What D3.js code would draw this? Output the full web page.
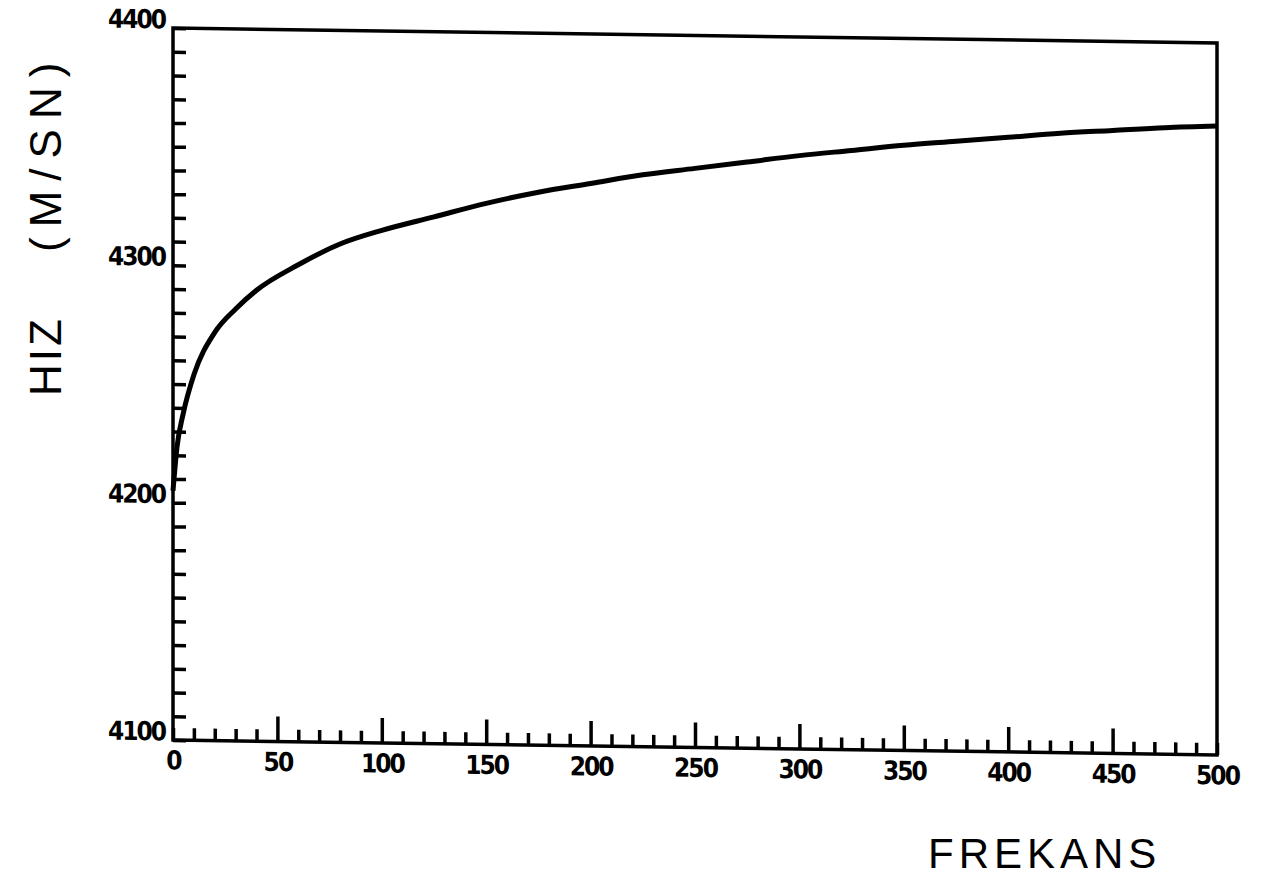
<!DOCTYPE html>
<html>
<head>
<meta charset="utf-8">
<script src="https://cdn.jsdelivr.net/npm/d3@7"></script>
<style>
  body { margin: 0; background: #fff; }
  svg { display: block; }
  .tick text { font-family: "DejaVu Sans Condensed", "DejaVu Sans", sans-serif; font-stretch: condensed; font-weight: bold; font-size: 26px; letter-spacing: -2px; fill: #000; }
  .tick line { stroke: #000; stroke-width: 3.5; }
  .domain { display: none; }
  .title { font-family: "Liberation Sans", Arial, sans-serif; fill: #000; }
</style>
</head>
<body>
<div class="container"></div>
<script>
// values
const frekans = [0, 2, 5, 10, 20, 30, 40, 60, 80, 100, 125, 150, 175, 200, 225, 250, 275, 300, 325, 350, 375, 400, 425, 450, 475, 500]
const hiz = [4205, 4224, 4238, 4254, 4272, 4282, 4290, 4301, 4310, 4316, 4322, 4328, 4333, 4337, 4341, 4344, 4347, 4350, 4352.5, 4355, 4357, 4359, 4361, 4362.5, 4364, 4365]
const xTicks = d3.range(0, 501, 10)
const yTicks = d3.range(4100, 4401, 10)

const w = 1266
const h = 888
const padLeft = 173
const padTop = 28
const pw = 1044
const ph = 712

const svg = d3.select(".container")
              .append("svg")
              .attr("width", w)
              .attr("height", h)

const xScale = d3.scaleLinear().domain([0, 500]).range([0, pw])
const yScale = d3.scaleLinear().domain([4100, 4400]).range([ph, 0])

// scanned original is slightly sheared, right side sits lower
const g = svg.append("g")
             .attr("transform", "translate(" + padLeft + "," + padTop + ") skewY(0.82)")

const xAxis = d3.axisBottom(xScale)
                .tickValues(xTicks)
                .tickSizeInner(-12)
                .tickSizeOuter(0)
                .tickPadding(11)
                .tickFormat(d => d % 50 === 0 ? d : "")
const xg = g.append("g")
            .attr("transform", "translate(0," + ph + ")")
            .call(xAxis)
xg.selectAll(".tick").filter(d => d % 50 === 0 && d > 0 && d < 500)
  .select("line").attr("y2", -25)

const yAxis = d3.axisLeft(yScale)
                .tickValues(yTicks)
                .tickSizeInner(-13)
                .tickSizeOuter(0)
                .tickPadding(8)
                .tickFormat(d => d % 100 === 0 ? d : "")
const yg = g.append("g").call(yAxis)
yg.selectAll(".tick text").attr("dy", "0")

// frame
g.append("rect")
 .attr("x", 0)
 .attr("y", 0)
 .attr("width", pw)
 .attr("height", ph)
 .attr("fill", "none")
 .attr("stroke", "#000")
 .attr("stroke-width", 3.5)

const line = d3.line()
               .x((d, i) => xScale(frekans[i]))
               .y(d => yScale(d))
               .curve(d3.curveMonotoneX)

g.append("path")
 .datum(hiz)
 .attr("d", line)
 .attr("fill", "none")
 .attr("stroke", "#000")
 .attr("stroke-width", 5)

// y title, two pieces with a wide gap like the plotter output
svg.append("text")
   .attr("class", "title")
   .attr("transform", "translate(61,396) rotate(-90)")
   .attr("font-size", 44)
   .attr("letter-spacing", 3)
   .text("HIZ")

svg.append("text")
   .attr("class", "title")
   .attr("transform", "translate(61,252) rotate(-90)")
   .attr("font-size", 44)
   .attr("letter-spacing", 10)
   .text("(M/SN)")

svg.append("text")
   .attr("class", "title")
   .attr("x", 928)
   .attr("y", 868)
   .attr("font-size", 42)
   .attr("letter-spacing", 5)
   .text("FREKANS")
</script>
</body>
</html>
